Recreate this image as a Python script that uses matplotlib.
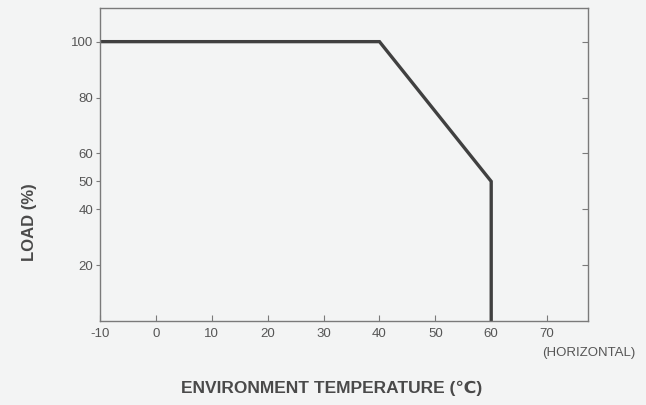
import matplotlib
matplotlib.use("Agg")
import matplotlib.pyplot as plt

# derating curve: load vs ambient temperature
temps = [-10, 40, 60, 60]
load = [100, 100, 50, 0]

x_ticks = [-10, 0, 10, 20, 30, 40, 50, 60, 70]
y_ticks = [20, 40, 50, 60, 80, 100]
right_ticks = [20, 40, 60, 80, 100]

FONT = ["Liberation Sans Narrow", "Liberation Sans", "DejaVu Sans"]
plt.rcParams["font.family"] = FONT
plt.rcParams["axes.unicode_minus"] = False

bg = "#f3f4f4"
axis_col = "#7a7a7a"
text_col = "#555555"

fig = plt.figure(figsize=(6.46, 4.05), dpi=100, facecolor=bg)
ax = fig.add_axes([0.155, 0.207, 0.755, 0.773])
ax.set_facecolor(bg)

ax.plot(temps, load, color="#404040", linewidth=2.4, solid_joinstyle="miter")

ax.set_xlim(-10, 77.3)
ax.set_ylim(0, 112)
ax.set_xticks(x_ticks)
ax.set_yticks(y_ticks)

for s in ax.spines.values():
    s.set_color(axis_col)
    s.set_linewidth(1.0)

ax.tick_params(axis="x", direction="in", length=4, color=axis_col,
               labelsize=9.5, labelcolor=text_col, pad=5)
ax.tick_params(axis="y", direction="out", length=3, color=axis_col,
               labelsize=9.5, labelcolor=text_col, pad=2)

# inward ticks on the right spine
ax_r = ax.twinx()
ax_r.set_ylim(ax.get_ylim())
ax_r.set_yticks(right_ticks)
ax_r.tick_params(axis="y", direction="in", length=4, color=axis_col, labelright=False)
for s in ax_r.spines.values():
    s.set_visible(False)

fig.text(0.046, 1 - 222 / 405, "LOAD (%)", rotation=90, ha="center", va="center",
         fontsize=12, fontweight="bold", color="#4a4a4a")
fig.text(0.514, 1 - 388 / 405, "ENVIRONMENT TEMPERATURE (℃)", ha="center", va="center",
         fontsize=12.5, fontweight="bold", color="#4a4a4a", family=FONT)
fig.text(0.912, 1 - 353 / 405, "(HORIZONTAL)", ha="center", va="center",
         fontsize=9.5, color=text_col)

fig.savefig("out.png", dpi=100, facecolor=bg)
